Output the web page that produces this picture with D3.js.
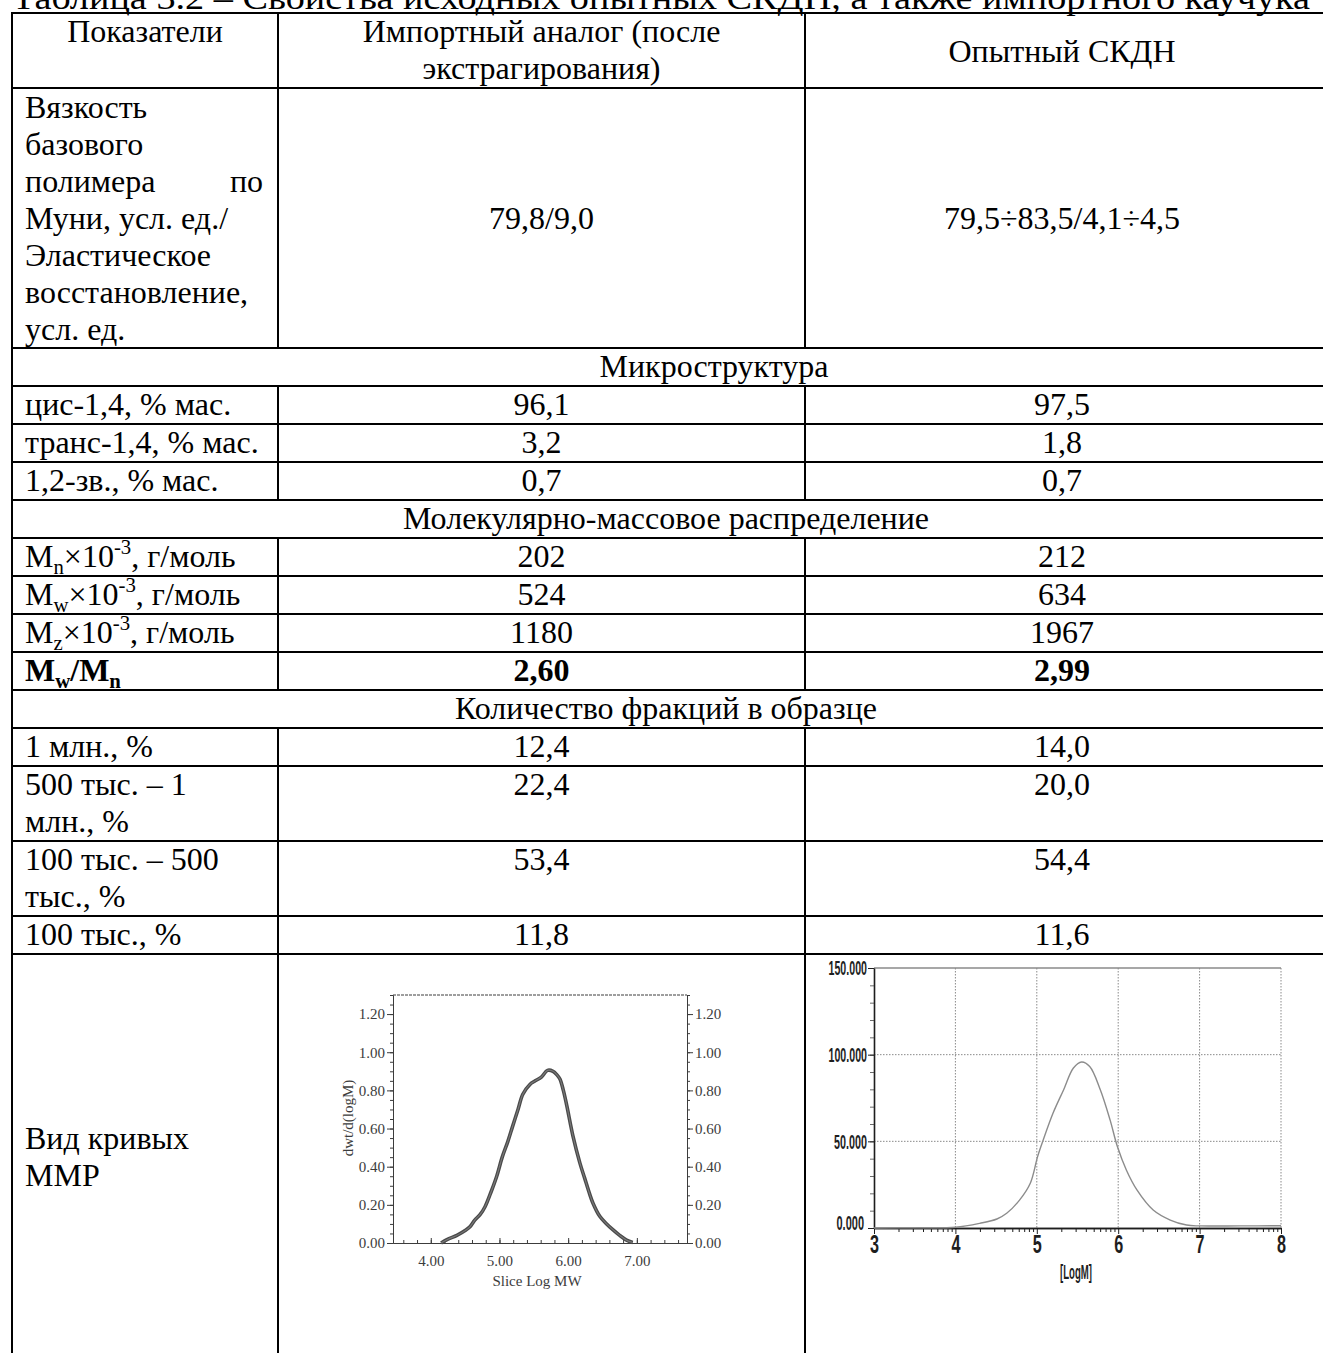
<!DOCTYPE html>
<html>
<head>
<meta charset="utf-8">
<title>Таблица 3.2</title>
<style>
    body { margin: 0; background: #fff; }
    svg { display: block; }
    .rule { stroke: #000; stroke-width: 2; }
</style>
</head>
<body>
<div id="target"></div>
<script src="https://cdnjs.cloudflare.com/ajax/libs/d3/7.8.5/d3.min.js"></script>
<script>
    // ---- table data ----
    var tableTitle = 'Таблица 3.2 – Свойства исходных опытных СКДН, а также импортного каучука';
    var colHeads = [['Показатели'], ['Импортный аналог (после', 'экстрагирования)'], ['Опытный СКДН']];
    var sectionTitles = ['Микроструктура', 'Молекулярно-массовое распределение', 'Количество фракций в образце'];
    var sectionBefore = [1, 4, 8];   // row index the section heading comes before

    // {..} = subscript, [..] = superscript, | = spread to both sides
    var rowLabels = [
        ['Вязкость', 'базового', 'полимера|по', 'Муни, усл. ед./', 'Эластическое', 'восстановление,', 'усл. ед.'],
        ['цис-1,4, % мас.'],
        ['транс-1,4, % мас.'],
        ['1,2-зв., % мас.'],
        ['M{n}×10[-3], г/моль'],
        ['M{w}×10[-3], г/моль'],
        ['M{z}×10[-3], г/моль'],
        ['M{w}/M{n}'],
        ['1 млн., %'],
        ['500 тыс. – 1', 'млн., %'],
        ['100 тыс. – 500', 'тыс., %'],
        ['100 тыс., %'],
        ['Вид кривых', 'ММР']
    ];
    var importValues = ['79,8/9,0', '96,1', '3,2', '0,7', '202', '524', '1180', '2,60', '12,4', '22,4', '53,4', '11,8', null];
    var expValues = ['79,5÷83,5/4,1÷4,5', '97,5', '1,8', '0,7', '212', '634', '1967', '2,99', '14,0', '20,0', '54,4', '11,6', null];
    var boldRows = [7];

    // ---- MWD curve, imported analogue ----
    var impLogM = [4.15, 4.25, 4.38, 4.50, 4.57, 4.64, 4.72, 4.79, 4.88, 4.96, 5.04, 5.12, 5.19, 5.27, 5.34, 5.44, 5.52, 5.61,
        5.70, 5.78, 5.84, 5.88, 5.93, 5.98, 6.07, 6.17, 6.24, 6.31, 6.36, 6.46, 6.56, 6.65, 6.75, 6.85, 6.94];
    var impDwt = [0, 0.02, 0.04, 0.065, 0.085, 0.12, 0.15, 0.19, 0.27, 0.35, 0.45, 0.53, 0.61, 0.70, 0.78, 0.83, 0.85, 0.87,
        0.905, 0.90, 0.88, 0.86, 0.80, 0.72, 0.56, 0.42, 0.34, 0.26, 0.21, 0.14, 0.10, 0.07, 0.04, 0.015, 0.003];
    var impYTicks = [0, 0.2, 0.4, 0.6, 0.8, 1.0, 1.2];
    var impXTicks = [4, 5, 6, 7];

    // ---- MWD curve, experimental SKDN ----
    var expLogM = [3.0, 3.5, 4.0, 4.3, 4.51, 4.63, 4.79, 4.92, 5.01, 5.08, 5.20, 5.33, 5.45, 5.55, 5.65, 5.78, 5.90, 5.99,
        6.10, 6.23, 6.43, 6.64, 6.84, 7.0, 7.5, 8.0];
    var expW = [0, 0.1, 0.4, 2.7, 5.2, 8.5, 16.2, 25.8, 41.2, 50.9, 66.3, 79.8, 92.3, 95.8, 93.2, 79.8, 62.4, 47.0,
        33.5, 22.0, 10.4, 4.6, 1.7, 1.2, 1.2, 1.3];
    var expYTicks = [0, 50, 100, 150];
    var expXTicks = [3, 4, 5, 6, 7, 8];

    var W = 1323, H = 1353;
    var serif = '"Liberation Serif","Times New Roman",serif';
    var narrow = '"Liberation Sans Narrow","Arial Narrow","Liberation Sans",Arial,sans-serif';
    var fs = 32, lineH = 37, rowPad = 38;
    var colX = [12, 278, 805, 1345];
    var colMid = [145, 541.5, 1062];

    var svg = d3.select('#target').append('svg').attr('width', W).attr('height', H);
    var gT = svg.append('g').attr('font-family', serif).attr('font-size', fs).attr('fill', '#000');

    //draws a label with sub/superscripts
    var rich = function (sel, str) {
        var parts = str.split(/(\{[^}]*\}|\[[^\]]*\])/).filter(function (p) { return p.length; });
        var shift = 0;
        parts.forEach(function (p) {
            var t = sel.append('tspan'), ds = 0, txt = p;
            if (p[0] === '{') { ds = 7; txt = p.slice(1, -1); t.attr('font-size', fs * 0.65); }
            else if (p[0] === '[') { ds = -13; txt = p.slice(1, -1); t.attr('font-size', fs * 0.65); }
            t.attr('dy', ds - shift).text(txt);
            shift = ds;
        });
    };

    var drawLines = function (lines, x, anchor, yFirst, bold) {
        lines.forEach(function (line, k) {
            var yy = yFirst + k * lineH;
            if (line.indexOf('|') >= 0) {
                var p = line.split('|');
                gT.append('text').attr('x', x).attr('y', yy).text(p[0]);
                gT.append('text').attr('x', colX[1] - 15).attr('y', yy).attr('text-anchor', 'end').text(p[1]);
                return;
            }
            var t = gT.append('text').attr('x', x).attr('y', yy).attr('text-anchor', anchor);
            if (bold) t.attr('font-weight', 'bold');
            rich(t, line);
        });
    };
    var midFirst = function (top, h, n) { return top + h / 2 - (n - 1) * lineH / 2 + 11; };

    // title, cut at the page top
    gT.append('text').attr('x', 12).attr('y', 9).attr('font-size', 33)
        .attr('textLength', 1298).attr('lengthAdjust', 'spacingAndGlyphs').text(tableTitle);

    var hLines = [], vSegs = [];
    var y = 13;
    hLines.push(y);

    // header row
    var hh = rowPad + lineH;
    drawLines(colHeads[0], colMid[0], 'middle', y + 29);
    drawLines(colHeads[1], colMid[1], 'middle', y + 29);
    drawLines(colHeads[2], colMid[2], 'middle', midFirst(y, hh, 1));
    vSegs.push([y, y + hh]);
    y += hh;
    hLines.push(y);

    rowLabels.forEach(function (lab, i) {
        var s = sectionBefore.indexOf(i);
        if (s >= 0) {
            var sx = s === 0 ? 714 : 666;
            drawLines([sectionTitles[s]], sx, 'middle', y + 29);
            y += rowPad;
            hLines.push(y);
        }
        var last = i === rowLabels.length - 1;
        var h = last ? 404 : rowPad + lineH * (lab.length - 1);
        var bold = boldRows.indexOf(i) >= 0;
        if (i === 0 || last) {
            drawLines(lab, 25, 'start', midFirst(y, h, lab.length), bold);
        } else {
            drawLines(lab, 25, 'start', y + 29, bold);
        }
        if (importValues[i] !== null) {
            var vy = i === 0 ? midFirst(y, h, 1) : y + 29;
            drawLines([importValues[i]], colMid[1], 'middle', vy, bold);
            drawLines([expValues[i]], colMid[2], 'middle', vy, bold);
        }
        vSegs.push([y, y + h]);
        y += h;
        if (!last) hLines.push(y);
    });

    var gR = svg.append('g');
    gR.selectAll('line.h').data(hLines).enter().append('line').attr('class', 'rule')
        .attr('x1', colX[0] - 1).attr('x2', W).attr('y1', function (d) { return d; }).attr('y2', function (d) { return d; });
    gR.append('line').attr('class', 'rule').attr('x1', colX[0]).attr('x2', colX[0]).attr('y1', 12).attr('y2', H);
    [colX[1], colX[2]].forEach(function (cx) {
        gR.selectAll(null).data(vSegs).enter().append('line').attr('class', 'rule')
            .attr('x1', cx).attr('x2', cx)
            .attr('y1', function (d) { return d[0]; }).attr('y2', function (d) { return d[1]; });
    });

    // ---- left chart: imported analogue ----
    var g1 = svg.append('g').attr('transform', 'translate(393,995)');
    var x1 = d3.scaleLinear().domain([3.45, 7.73]).range([0, 294]);
    var y1 = d3.scaleLinear().domain([0, 1.3]).range([248, 0]);
    var ink1 = '#3c3c3c';
    var styleAx = function (g, family, size) {
        g.attr('font-family', family).attr('font-size', size).attr('color', ink1);
        g.selectAll('.domain').attr('stroke-width', 1);
    };
    var minorY1 = d3.range(0, 27).map(function (i) { return i * 0.05; });
    var minorX1 = d3.range(18, 39).map(function (i) { return i * 0.2; });

    g1.append('g').call(d3.axisLeft(y1).tickValues(minorY1).tickSize(3).tickSizeOuter(0).tickFormat('')).call(styleAx, serif, 15);
    g1.append('g').call(d3.axisLeft(y1).tickValues(impYTicks).tickSize(6).tickSizeOuter(0).tickPadding(2)
        .tickFormat(d3.format('.2f'))).call(styleAx, serif, 15);
    g1.append('g').attr('transform', 'translate(294,0)')
        .call(d3.axisRight(y1).tickValues(minorY1).tickSize(3).tickSizeOuter(0).tickFormat('')).call(styleAx, serif, 15);
    g1.append('g').attr('transform', 'translate(294,0)')
        .call(d3.axisRight(y1).tickValues(impYTicks).tickSize(6).tickSizeOuter(0).tickPadding(2)
            .tickFormat(d3.format('.2f'))).call(styleAx, serif, 15);
    g1.append('g').attr('transform', 'translate(0,248)')
        .call(d3.axisBottom(x1).tickValues(minorX1).tickSize(-3).tickSizeOuter(0).tickFormat('')).call(styleAx, serif, 15);
    g1.append('g').attr('transform', 'translate(0,248)')
        .call(d3.axisBottom(x1).tickValues(impXTicks).tickSize(-5).tickSizeOuter(0).tickPadding(12)
            .tickFormat(d3.format('.2f'))).call(styleAx, serif, 15);
    g1.append('line').attr('x1', 0).attr('x2', 294).attr('y1', y1(1.3)).attr('y2', y1(1.3))
        .attr('stroke', ink1).attr('stroke-dasharray', '3,1');

    g1.append('text').attr('transform', 'translate(-40,123) rotate(-90)').attr('text-anchor', 'middle')
        .attr('font-family', serif).attr('font-size', 15).attr('fill', ink1).text('dwt/d(logM)');
    g1.append('text').attr('x', 144).attr('y', 291).attr('text-anchor', 'middle')
        .attr('font-family', serif).attr('font-size', 15).attr('fill', ink1).text('Slice Log MW');

    var impPts = impLogM.map(function (m, i) { return [m, impDwt[i]]; });
    var line1 = d3.line().x(function (d) { return x1(d[0]); }).y(function (d) { return y1(d[1]); }).curve(d3.curveCatmullRom);
    g1.append('path').datum(impPts).attr('d', line1).attr('fill', 'none').attr('stroke', '#4a4a4a').attr('stroke-width', 3.6);
    g1.append('path').datum(impPts).attr('d', line1).attr('fill', 'none').attr('stroke', '#7a7a7a').attr('stroke-width', 1.1);

    // ---- right chart: experimental SKDN ----
    var g2 = svg.append('g').attr('transform', 'translate(874,968)');
    var x2 = d3.scaleLinear().domain([3, 8]).range([0, 407]);
    var y2 = d3.scaleLinear().domain([0, 150]).range([260, 0]);
    var ink2 = '#1e1e1e';

    g2.selectAll('line.hg').data([50, 100]).enter().append('line')
        .attr('x1', 0).attr('x2', 407).attr('y1', y2).attr('y2', y2)
        .attr('stroke', '#8a8a8a').attr('stroke-dasharray', '1.5,1.5');
    g2.selectAll('line.vg').data([4, 5, 6, 7, 8]).enter().append('line')
        .attr('x1', x2).attr('x2', x2).attr('y1', 0).attr('y2', 260)
        .attr('stroke', '#8a8a8a').attr('stroke-dasharray', '1.5,1.5');
    g2.append('line').attr('x1', 0).attr('x2', 407).attr('y1', y2(150)).attr('y2', y2(150))
        .attr('stroke', '#8a8a8a').attr('stroke-width', 1.3);

    var narrowLabels = function (g, perChar) {
        g.attr('font-family', narrow).attr('font-weight', 'bold').attr('color', ink2);
        g.selectAll('text').attr('textLength', function () { return this.textContent.length * perChar; })
            .attr('lengthAdjust', 'spacingAndGlyphs');
    };
    g2.append('g').call(d3.axisLeft(y2).tickValues(d3.range(0, 151, 10)).tickSize(4).tickSizeOuter(0).tickFormat(''))
        .attr('color', '#6a6a6a');
    g2.append('g').call(d3.axisLeft(y2).tickValues(expYTicks).tickSize(6).tickSizeOuter(0).tickPadding(1)
        .tickFormat(d3.format('.3f'))).attr('font-size', 21).call(narrowLabels, 5.5);
    // keep the zero label clear of the "3" below it
    g2.selectAll('.tick text').filter(function (d) { return d === 0; }).attr('dy', '0.05em').attr('x', -10);

    var minorX2 = [];
    d3.range(3, 8).forEach(function (n) {
        d3.range(2, 10).forEach(function (k) { minorX2.push(n + Math.log10(k)); });
    });
    g2.append('g').attr('transform', 'translate(0,260)')
        .call(d3.axisBottom(x2).tickValues(minorX2).tickSize(4).tickSizeOuter(0).tickFormat('')).attr('color', ink2);
    g2.append('g').attr('transform', 'translate(0,260)')
        .call(d3.axisBottom(x2).tickValues(expXTicks).tickSize(6).tickSizeOuter(0).tickPadding(1)
            .tickFormat(d3.format('d')))
        .attr('font-size', 25).call(narrowLabels, 9);
    g2.selectAll('.domain').attr('stroke-width', 1.4);

    g2.append('text').attr('x', 202).attr('y', 311).attr('text-anchor', 'middle')
        .attr('font-family', narrow).attr('font-weight', 'bold').attr('font-size', 21).attr('fill', ink2)
        .attr('textLength', 32).attr('lengthAdjust', 'spacingAndGlyphs').text('[LogM]');

    var expPts = expLogM.map(function (m, i) { return [m, expW[i]]; });
    g2.append('path').datum(expPts)
        .attr('d', d3.line().x(function (d) { return x2(d[0]); }).y(function (d) { return y2(d[1]); }).curve(d3.curveCatmullRom))
        .attr('fill', 'none').attr('stroke', '#8c8c8c').attr('stroke-width', 1.4);
</script>
</body>
</html>
